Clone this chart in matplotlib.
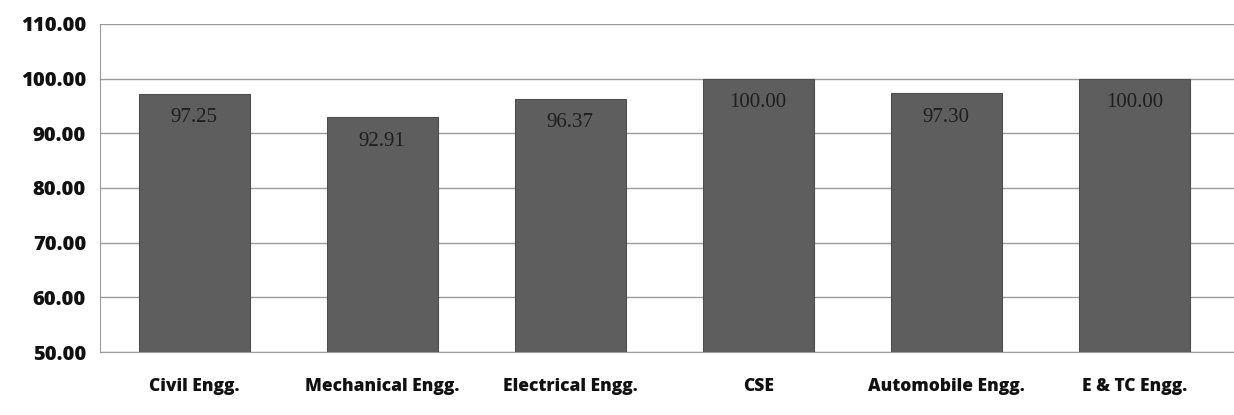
import matplotlib
matplotlib.use("Agg")
import matplotlib.pyplot as plt

categories = ["Civil Engg.", "Mechanical Engg.", "Electrical Engg.", "CSE",
              "Automobile Engg.", "E & TC Engg."]
values = [97.25, 92.91, 96.37, 100.00, 97.30, 100.00]
yticks = [50, 60, 70, 80, 90, 100, 110]

plt.rcParams['font.family'] = ['Open Sans', 'DejaVu Sans']

fig = plt.figure(figsize=(12.34, 4.15), dpi=100)
ax = fig.add_axes([100/1234, 1 - 352/415, 1134/1234, 328/415])

x = range(len(categories))
ax.bar(x, values, width=0.59, color="#5e5e5e", edgecolor="#4e4e4e",
       linewidth=0.8, zorder=3)
ax.set_ylim(50, 110)
ax.set_xlim(-0.5, 5.53)
ax.set_yticks(yticks)
ax.set_yticklabels([f"{v:.2f}" for v in yticks], fontsize=14.5,
                   fontweight="heavy", color="#111111")
ax.set_xticks(list(x))
ax.set_xticklabels(categories, fontsize=12.5, fontweight="heavy", color="#111111")
ax.tick_params(axis="x", length=0, pad=19)
ax.tick_params(axis="y", length=0, pad=10)
ax.yaxis.grid(True, color="#9a9a9a", linewidth=1.0, zorder=0)
for side in ["top", "right"]:
    ax.spines[side].set_visible(False)
ax.spines["left"].set_color("#9a9a9a")
ax.spines["bottom"].set_color("#9a9a9a")

for xi, v in zip(x, values):
    ax.annotate(f"{v:.2f}", (xi, v), xytext=(0, -17), textcoords="offset points",
                ha="center", va="center", fontsize=15, color="#1e1e1e",
                family=["Liberation Serif", "DejaVu Serif"], zorder=4)

fig.savefig("out.png", dpi=100, facecolor="white")
